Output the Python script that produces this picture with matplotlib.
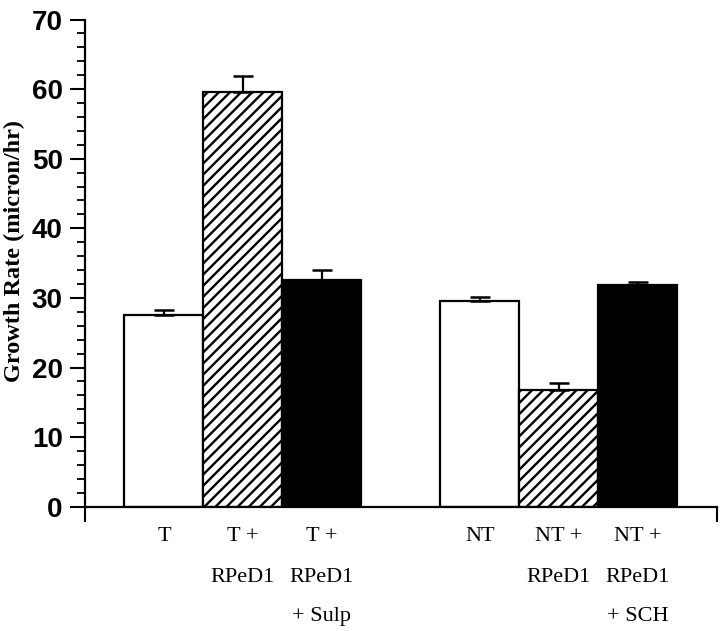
import matplotlib.pyplot as plt
import matplotlib.transforms as mtransforms

# values (micron/hr), one-sided SEM bars
labels = [["T"], ["T +", "RPeD1"], ["T +", "RPeD1", "+ Sulp"],
          ["NT"], ["NT +", "RPeD1"], ["NT +", "RPeD1", "+ SCH"]]
growth = [27.5, 59.6, 32.6, 29.6, 16.7, 31.9]
sem = [0.7, 2.3, 1.4, 0.6, 1.1, 0.4]
faces = ["white", "white", "black", "white", "white", "black"]
hatches = [None, "///", None, None, "///", None]

plt.rcParams["hatch.linewidth"] = 1.7
plt.rcParams["hatch.color"] = "black"

fig = plt.figure(figsize=(7.2, 6.31), dpi=100)
ax = fig.add_axes([85 / 720, 1 - 506.7 / 631, (716.7 - 85) / 720, (506.7 - 19.5) / 631])

# two groups of three bars with a one-bar gap between them
xs = [0, 1, 2, 4, 5, 6]
ax.bar(xs, growth, width=1.0, color=faces, edgecolor="black", linewidth=1.6,
       hatch=hatches, zorder=2)
ax.errorbar(xs, growth, yerr=[[0] * len(sem), sem], fmt="none", ecolor="black",
            elinewidth=1.6, capsize=7, capthick=1.8, zorder=3)

ax.set_xlim(-1, 7)
ax.set_ylim(0, 70)
ax.set_yticks(range(0, 71, 10))
ax.set_yticks(range(0, 71, 2), minor=True)
ax.set_xticks([-1, 7])
ax.set_xticklabels([])
ax.tick_params(axis="both", which="major", direction="out", length=11, width=1.5)
ax.tick_params(axis="y", which="minor", direction="out", length=5.8, width=1.3)
ax.tick_params(axis="y", pad=5)
for lab in ax.get_yticklabels():
    lab.set_fontfamily("Liberation Sans")
    lab.set_fontweight("bold")
    lab.set_fontsize(20)

for side in ["top", "right"]:
    ax.spines[side].set_visible(False)
for side in ["left", "bottom"]:
    ax.spines[side].set_linewidth(1.6)

# category names under the bars, one row per line
trans = mtransforms.blended_transform_factory(ax.transData, fig.transFigure)
rows_y = [1 - 536.7 / 631, 1 - 578 / 631, 1 - 616.7 / 631]
for x, lines in zip(xs, labels):
    for i, line in enumerate(lines):
        ax.text(x, rows_y[i], line, transform=trans, ha="center", va="center",
                fontsize=16, family="Liberation Serif", clip_on=False)

fig.text(14 / 720, 1 - 251.5 / 631, "Growth Rate (micron/hr)", rotation=90,
         ha="center", va="center", fontsize=17.5, fontweight="bold",
         family="Liberation Serif")

fig.savefig("out.png", dpi=100)
